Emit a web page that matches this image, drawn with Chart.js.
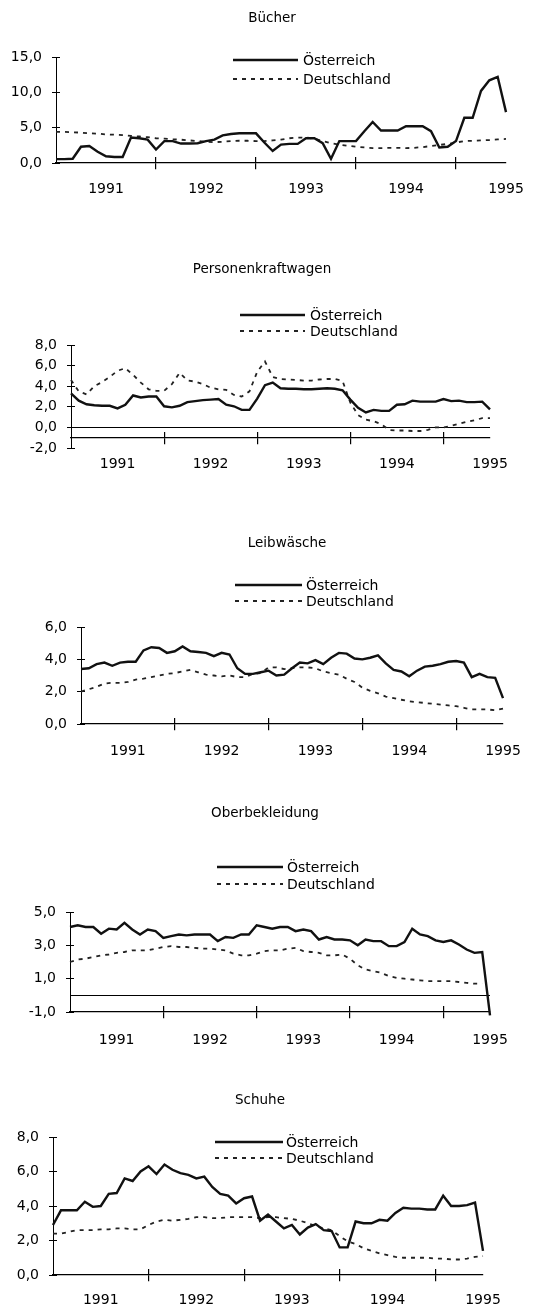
<!DOCTYPE html>
<html>
<head>
<meta charset="utf-8">
<script src="https://cdn.jsdelivr.net/npm/chart.js@4.4.1/dist/chart.umd.min.js"></script>
<style>
  body { margin: 0; background: #fff; width: 534px; height: 1314px; position: relative; overflow: hidden; }
  canvas { position: absolute; left: 0; }
</style>
</head>
<body>
<canvas id="c1"></canvas>
<canvas id="c2"></canvas>
<canvas id="c3"></canvas>
<canvas id="c4"></canvas>
<canvas id="c5"></canvas>
<script>
// categories: months Jan 1991 .. Jul 1995
const yearLabels = ["1991", "1992", "1993", "1994", "1995"];
const monthNames = ["Jan", "Feb", "Mär", "Apr", "Mai", "Jun", "Jul", "Aug", "Sep", "Okt", "Nov", "Dez"];
const months = yearLabels.flatMap(y => monthNames.map(m => m + " " + y)).slice(0, 55);
const yearStartIdx = [12, 24, 36, 48];      // tick marks between years
const yearLabelIdx = [6, 18, 30, 42, 54];   // where the year names sit

const seriesNames = ["Österreich", "Deutschland"];

// Bücher
const buecherAT = [0.55,0.55,0.6,2.3,2.4,1.6,0.95,0.85,0.85,3.6,3.5,3.3,1.9,3.1,3.1,2.75,2.75,2.8,3.1,3.3,3.9,4.1,4.2,4.2,4.2,2.9,1.7,2.6,2.7,2.7,3.5,3.5,2.8,0.6,3.1,3.1,3.1,4.5,5.8,4.6,4.6,4.6,5.2,5.2,5.2,4.5,2.2,2.3,3.1,6.4,6.4,10.2,11.7,12.2,7.2];
const buecherDE = [4.4,4.4,4.35,4.3,4.2,4.15,4.05,4.0,3.95,3.85,3.75,3.65,3.5,3.45,3.35,3.3,3.2,3.1,3.0,2.95,3.0,3.1,3.15,3.15,3.1,3.1,3.2,3.3,3.5,3.6,3.6,3.45,3.1,2.8,2.6,2.45,2.3,2.2,2.1,2.1,2.15,2.15,2.1,2.15,2.25,2.4,2.55,2.7,2.9,3.1,3.15,3.2,3.25,3.35,3.4];

// Personenkraftwagen
const pkwAT = [3.3,2.6,2.25,2.15,2.1,2.1,1.85,2.2,3.1,2.9,3.0,3.0,2.05,1.95,2.1,2.45,2.55,2.65,2.7,2.75,2.2,2.05,1.7,1.7,2.8,4.1,4.35,3.8,3.75,3.75,3.7,3.7,3.75,3.8,3.75,3.6,2.7,1.9,1.45,1.7,1.6,1.6,2.2,2.25,2.6,2.5,2.5,2.5,2.75,2.55,2.6,2.45,2.45,2.5,1.75];
const pkwDE = [4.6,3.5,3.2,4.0,4.4,4.9,5.5,5.75,5.1,4.35,3.7,3.55,3.55,4.2,5.3,4.55,4.45,4.2,3.85,3.7,3.65,3.15,3.0,3.5,5.4,6.4,4.9,4.7,4.65,4.6,4.55,4.55,4.65,4.7,4.7,4.5,2.4,1.2,0.75,0.6,0.3,-0.25,-0.3,-0.3,-0.35,-0.35,-0.25,0.0,0.0,0.15,0.35,0.55,0.7,0.9,0.9];

// Leibwäsche
const leibAT = [3.4,3.45,3.7,3.8,3.6,3.8,3.85,3.85,4.55,4.75,4.7,4.4,4.5,4.8,4.5,4.45,4.4,4.2,4.4,4.3,3.45,3.1,3.1,3.2,3.3,3.0,3.05,3.45,3.8,3.75,3.95,3.7,4.1,4.4,4.35,4.05,4.0,4.1,4.25,3.75,3.35,3.25,2.95,3.3,3.55,3.6,3.7,3.85,3.9,3.8,2.9,3.1,2.9,2.85,1.6];
const leibDE = [2.0,2.15,2.3,2.5,2.55,2.55,2.6,2.75,2.8,2.9,3.0,3.1,3.15,3.25,3.35,3.2,3.05,3.0,2.95,3.0,2.9,2.9,3.1,3.15,3.5,3.5,3.4,3.45,3.5,3.5,3.45,3.25,3.15,3.05,2.8,2.6,2.25,2.05,1.9,1.7,1.6,1.5,1.4,1.35,1.3,1.25,1.2,1.15,1.1,1.0,0.9,0.9,0.9,0.85,0.95];

// Oberbekleidung
const oberAT = [4.1,4.2,4.1,4.1,3.7,4.0,3.95,4.35,3.95,3.65,3.95,3.85,3.45,3.55,3.65,3.6,3.65,3.65,3.65,3.25,3.5,3.45,3.65,3.65,4.2,4.1,4.0,4.1,4.1,3.85,3.95,3.85,3.35,3.5,3.35,3.35,3.3,3.0,3.35,3.25,3.25,2.95,2.95,3.2,4.0,3.65,3.55,3.3,3.2,3.3,3.05,2.75,2.55,2.6,-1.2];
const oberDE = [2.0,2.15,2.2,2.3,2.4,2.45,2.55,2.6,2.7,2.7,2.7,2.8,2.9,2.95,2.9,2.9,2.85,2.8,2.8,2.75,2.7,2.5,2.4,2.4,2.5,2.65,2.7,2.7,2.8,2.85,2.65,2.6,2.55,2.4,2.4,2.45,2.2,1.8,1.55,1.45,1.35,1.15,1.05,1.0,0.95,0.9,0.85,0.85,0.85,0.85,0.8,0.75,0.7,0.7,null];

// Schuhe
const schuheAT = [2.9,3.75,3.75,3.75,4.25,3.95,4.0,4.7,4.75,5.6,5.45,6.0,6.3,5.85,6.4,6.1,5.9,5.8,5.6,5.7,5.1,4.7,4.6,4.15,4.45,4.55,3.15,3.5,3.1,2.7,2.9,2.35,2.75,2.95,2.6,2.55,1.6,1.6,3.1,3.0,3.0,3.2,3.15,3.6,3.9,3.85,3.85,3.8,3.8,4.6,4.0,4.0,4.05,4.2,1.4];
const schuheDE = [2.4,2.4,2.5,2.6,2.6,2.6,2.65,2.65,2.7,2.7,2.65,2.65,2.9,3.1,3.2,3.15,3.2,3.25,3.35,3.35,3.3,3.3,3.35,3.35,3.35,3.35,3.3,3.35,3.35,3.3,3.25,3.15,3.0,2.85,2.7,2.6,2.25,1.95,1.8,1.55,1.4,1.25,1.15,1.05,1.0,1.0,1.0,1.0,0.95,0.95,0.9,0.9,0.95,1.05,1.1];

// page layout of the five panels (page pixels)
const panels = [
  { id: "c1", top: 0,    height: 235, title: "Bücher",             titleX: 272, titleY: 18,
    area: { l: 56, r: 506, t: 57,  b: 163 },  labelY: 189,
    yMin: 0, yMax: 15, yStep: 5, axisAt: 0, zeroLine: false,
    legend: { x1: 233, x2: 298, tx: 303, y: [60, 79] },  at: buecherAT, de: buecherDE },
  { id: "c2", top: 235,  height: 265, title: "Personenkraftwagen", titleX: 262, titleY: 269,
    area: { l: 71, r: 490, t: 345, b: 448 },  labelY: 463.5,
    yMin: -2, yMax: 8, yStep: 2, axisAt: -1, zeroLine: true,
    legend: { x1: 240, x2: 305, tx: 310, y: [315, 331] }, at: pkwAT, de: pkwDE },
  { id: "c3", top: 500,  height: 270, title: "Leibwäsche",         titleX: 287, titleY: 543,
    area: { l: 81, r: 503, t: 627, b: 724 },  labelY: 751,
    yMin: 0, yMax: 6, yStep: 2, axisAt: 0, zeroLine: false,
    legend: { x1: 235, x2: 302, tx: 306, y: [585, 601] }, at: leibAT, de: leibDE },
  { id: "c4", top: 770,  height: 290, title: "Oberbekleidung",     titleX: 265, titleY: 813,
    area: { l: 70, r: 490, t: 912, b: 1012 }, labelY: 1040,
    yMin: -1, yMax: 5, yStep: 2, axisAt: -1, zeroLine: true,
    legend: { x1: 217, x2: 283, tx: 287, y: [867, 884] }, at: oberAT, de: oberDE },
  { id: "c5", top: 1060, height: 254, title: "Schuhe",             titleX: 260, titleY: 1100,
    area: { l: 53, r: 483, t: 1137, b: 1275 }, labelY: 1300,
    yMin: 0, yMax: 8, yStep: 2, axisAt: 0, zeroLine: false,
    legend: { x1: 215, x2: 283, tx: 286, y: [1142, 1158] }, at: schuheAT, de: schuheDE }
];

Chart.defaults.font.family = '"DejaVu Sans", sans-serif';
Chart.defaults.font.size = 14;
Chart.defaults.color = "#000";

// title and legend, drawn in the spots the original uses
const panelText = {
  id: "panelText",
  afterDraw(chart, args, opts) {
    const ctx = chart.ctx;
    ctx.save();
    ctx.fillStyle = "#000";
    ctx.font = '13.5px "DejaVu Sans"';
    ctx.textAlign = "center";
    ctx.textBaseline = "middle";
    ctx.fillText(opts.title, opts.titleX, opts.titleY);
    ctx.font = '14px "DejaVu Sans"';
    ctx.textAlign = "left";
    chart.data.datasets.forEach((ds, i) => {
      const y = opts.legend.y[i];
      ctx.beginPath();
      ctx.setLineDash(ds.borderDash || []);
      ctx.lineWidth = ds.borderWidth;
      ctx.strokeStyle = ds.borderColor;
      ctx.moveTo(opts.legend.x1, y);
      ctx.lineTo(opts.legend.x2, y);
      ctx.stroke();
      ctx.setLineDash([]);
      ctx.fillText(ds.label, opts.legend.tx, y + 1);
    });
    ctx.restore();
  }
};

const fmt = v => v.toFixed(1).replace(".", ",");
const noPad = s => { s.paddingLeft = 0; s.paddingRight = 0; s.paddingTop = 0; s.paddingBottom = 0; };

function makeChart(p) {
  const canvas = document.getElementById(p.id);
  canvas.style.top = p.top + "px";
  canvas.width = 534;
  canvas.height = p.height;
  const top = p.top;

  // year marks crossing the x axis: one axis ticks down, the other up
  const yearTicks = (len, border) => ({
    axis: "x",
    type: "category",
    position: { y: p.axisAt },
    ticks: { display: false, autoSkip: false },
    grid: { drawOnChartArea: false, tickLength: len, color: "#000", lineWidth: 1.2 },
    border: border ? { color: "#000", width: 1.2 } : { display: false },
    afterBuildTicks: s => { s.ticks = yearStartIdx.map(v => ({ value: v })); },
    afterFit: noPad
  });

  const scales = {
    y: {
      type: "linear",
      position: "left",
      min: p.yMin,
      max: p.yMax,
      ticks: { stepSize: p.yStep, padding: 10, callback: v => fmt(v) },
      grid: { drawOnChartArea: false, tickColor: "#000", tickLength: 4, lineWidth: 1 },
      border: { color: "#000", width: 1 },
      afterFit: s => { s.width = p.area.l; noPad(s); }
    },
    // short inner half of the y tick marks
    yt: {
      axis: "y",
      type: "linear",
      position: { x: 0 },
      min: p.yMin,
      max: p.yMax,
      ticks: { display: false, stepSize: p.yStep },
      grid: { drawOnChartArea: false, tickLength: -4, color: "#000", lineWidth: 1 },
      border: { display: false },
      afterFit: noPad
    },
    x: yearTicks(6, true),
    xt: yearTicks(-6, false),
    xl: {
      axis: "x",
      type: "category",
      position: "bottom",
      ticks: {
        autoSkip: false,
        maxRotation: 0,
        padding: p.labelY - p.area.b - 8,
        callback: (v, i) => yearLabels[i]
      },
      grid: { display: false, drawTicks: false },
      border: { display: false },
      afterBuildTicks: s => { s.ticks = yearLabelIdx.map(v => ({ value: v })); },
      afterFit: s => { s.height = p.labelY - p.area.b + 12; noPad(s); }
    }
  };
  if (p.zeroLine) {
    scales.yz = {
      axis: "y",
      type: "linear",
      position: { x: 0 },
      min: p.yMin,
      max: p.yMax,
      ticks: { display: false },
      grid: { drawTicks: false, color: "#000", lineWidth: 1 },
      border: { display: false },
      afterBuildTicks: s => { s.ticks = [{ value: 0 }]; },
      afterFit: noPad
    };
  }

  new Chart(canvas, {
    type: "line",
    data: {
      labels: months,
      datasets: [
        { label: seriesNames[0], data: p.at, borderColor: "#111", borderWidth: 2.4,
          pointRadius: 0, tension: 0, clip: false },
        { label: seriesNames[1], data: p.de, borderColor: "#222", borderWidth: 1.8,
          borderDash: [4, 5], pointRadius: 0, tension: 0, clip: false }
      ]
    },
    options: {
      responsive: false,
      animation: false,
      layout: {
        padding: {
          left: 0,
          right: 534 - p.area.r,
          top: p.area.t - top,
          bottom: p.height - (p.labelY - top) - 12
        }
      },
      plugins: {
        legend: { display: false },
        tooltip: { enabled: false },
        panelText: {
          title: p.title, titleX: p.titleX, titleY: p.titleY - top,
          legend: { x1: p.legend.x1, x2: p.legend.x2, tx: p.legend.tx, y: p.legend.y.map(v => v - top) }
        }
      },
      scales
    },
    plugins: [panelText]
  });
}

panels.forEach(makeChart);
</script>
</body>
</html>
